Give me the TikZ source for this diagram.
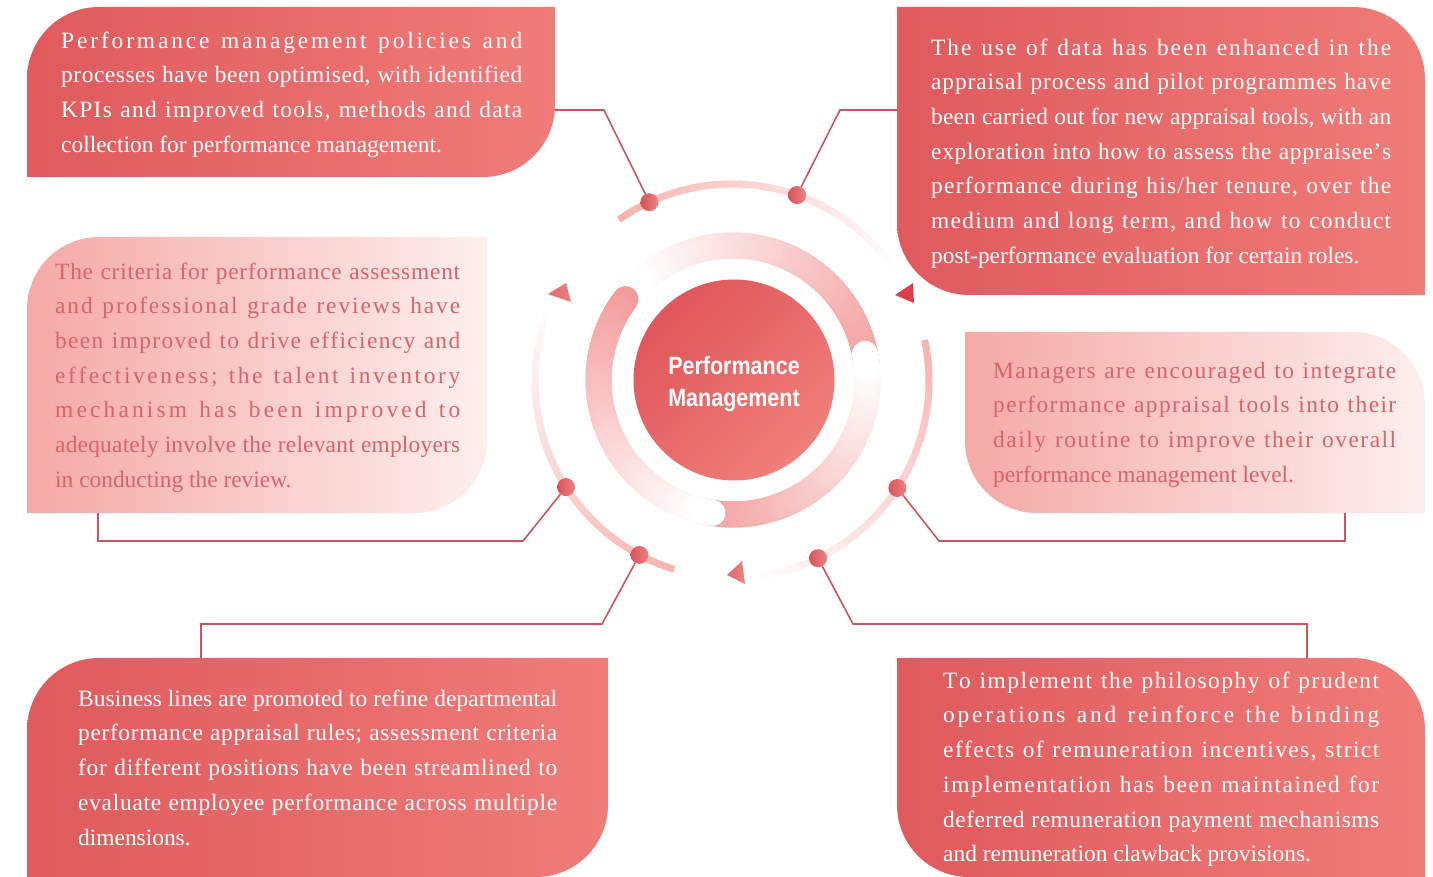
\documentclass[tikz,border=0pt]{standalone}
\usepackage{fontspec}
\setmainfont{Liberation Serif}
\newfontfamily\corefont[FakeStretch=0.86]{Liberation Sans}

\definecolor{pmred}{HTML}{DF5A5D}
\definecolor{pmsalmon}{HTML}{F07C78}
\definecolor{pmpink}{HTML}{F5A9A5}
\definecolor{pmblush}{HTML}{FDEFEE}
\definecolor{pmtext}{HTML}{D8636A}
\definecolor{pmline}{HTML}{C9565B}
\definecolor{pmring}{HTML}{F39C9A}
\definecolor{pmouter}{HTML}{F6B4AF}
\definecolor{pmarrow}{HTML}{D93F4C}
\definecolor{pmarrowsoft}{HTML}{E2686C}
\definecolor{pmdot}{HTML}{D8525A}
\definecolor{pmdotlight}{HTML}{EC8282}
\definecolor{pmcoreA}{HTML}{DF565B}
\definecolor{pmcoreB}{HTML}{F17F7A}

\tikzset{
	dark/.style={left color=pmred, right color=pmsalmon},
	light/.style={left color=pmpink, right color=pmblush},
	blurb/.style={anchor=north west, inner sep=0pt, align=justify,
		font={\fontsize{23.4}{34.7}\selectfont}},
	bright/.style={blurb, text=white},
	soft/.style={blurb, text=pmtext},
	core/.style={circle, inner sep=0pt, minimum size=201pt,
		top color=pmcoreA, bottom color=pmcoreB, shading angle=45},
	corelabel/.style={align=center, text=white, inner sep=0pt,
		font={\corefont\bfseries\fontsize{25}{32}\selectfont}},
	dot/.style={circle, inner sep=0pt, minimum size=18pt, left color=pmdot, right color=pmdotlight},
	link/.style={draw=pmline, line width=1.6pt},
	ringband/.style={line width=26pt, line cap=round},
	outerband/.style={line width=7pt}
}

% one full-width line, spread out letter by letter
\ExplSyntaxOn
\seq_new:N \l_pm_words_seq
\cs_new_protected:Npn \SpreadLine #1
	{
		\seq_set_split:Nnn \l_pm_words_seq { ~ } { #1 }
		\hbox_to_wd:nn { \hsize }
			{
				\rule{0pt}{20pt}
				\seq_map_inline:Nn \l_pm_words_seq
					{
						\tl_map_inline:nn { ##1 } { ####1 \skip_horizontal:n { 0pt plus 1fil } }
						\c_space_tl \skip_horizontal:n { 0pt plus 1fil }
					}
				\unskip \unskip \unskip
			}
		\par
	}
\cs_new_protected:Npn \LastLine #1 { \noindent \rule{0pt}{20pt} #1 \par }
\ExplSyntaxOff

% panels with two opposite rounded corners
\newcommand{\PanelTL}[5][]{\shade[#1] (#2,#5) -- (#2,#3+72) arc[start angle=180, end angle=270, radius=72] -- (#4,#3) -- (#4,#5-72) arc[start angle=0, end angle=90, radius=72] -- cycle;}
\newcommand{\PanelTR}[5][]{\shade[#1] (#2,#3) -- (#4-72,#3) arc[start angle=270, end angle=360, radius=72] -- (#4,#5) -- (#2+72,#5) arc[start angle=90, end angle=180, radius=72] -- cycle;}
\newcommand{\Blurb}[4][]{\node[#1] (#2) at #3 {#4};}
% arc fading from colour to white, angles counter-clockwise
\newcommand{\FadeArc}[6][]{%
	\foreach \k in {0,...,47}{
		\pgfmathsetmacro{\ta}{#3+(#4-#3)*\k/48}
		\pgfmathsetmacro{\tb}{#3+(#4-#3)*(\k+1.5)/48}
		\pgfmathsetmacro{\na}{-(\ta)}
		\pgfmathsetmacro{\nb}{-(\tb)}
		\pgfmathsetmacro{\tc}{100-100*\k/47}
		\draw[#1, draw=#6!\tc!white] (#2) ++(\na:#5) arc[start angle=\na, end angle=\nb, radius=#5];
	}}

\begin{document}
\begin{tikzpicture}[x=1pt, y=-1pt]
	\useasboundingbox (0,0) rectangle (1433,877);

	\PanelTL[dark]{27}{7}{555}{177}
	\PanelTR[dark]{897}{7}{1425}{295}
	\PanelTL[light]{27}{237}{487}{513}
	\PanelTR[light]{965}{332}{1425}{513}
	\PanelTL[dark]{27}{658}{608}{877}
	\PanelTR[dark]{897}{658}{1425}{877}

	\Blurb[bright, text width=461pt]{tA}{(61,28)}{%
		\SpreadLine{Performance management policies and}
		\SpreadLine{processes have been optimised, with identified}
		\SpreadLine{KPIs and improved tools, methods and data}
		\LastLine{collection for performance management.}}
	\Blurb[bright, text width=460pt]{tB}{(931,35)}{%
		\SpreadLine{The use of data has been enhanced in the}
		\SpreadLine{appraisal process and pilot programmes have}
		\SpreadLine{been carried out for new appraisal tools, with an}
		\SpreadLine{exploration into how to assess the appraisee's}
		\SpreadLine{performance during his/her tenure, over the}
		\SpreadLine{medium and long term, and how to conduct}
		\LastLine{post-performance evaluation for certain roles.}}
	\Blurb[soft, text width=405pt]{tC}{(55,259)}{%
		\SpreadLine{The criteria for performance assessment}
		\SpreadLine{and professional grade reviews have}
		\SpreadLine{been improved to drive efficiency and}
		\SpreadLine{effectiveness; the talent inventory}
		\SpreadLine{mechanism has been improved to}
		\SpreadLine{adequately involve the relevant employers}
		\LastLine{in conducting the review.}}
	\Blurb[soft, text width=403pt]{tD}{(993,358)}{%
		\SpreadLine{Managers are encouraged to integrate}
		\SpreadLine{performance appraisal tools into their}
		\SpreadLine{daily routine to improve their overall}
		\LastLine{performance management level.}}
	\Blurb[bright, text width=479pt]{tE}{(78,686)}{%
		\SpreadLine{Business lines are promoted to refine departmental}
		\SpreadLine{performance appraisal rules; assessment criteria}
		\SpreadLine{for different positions have been streamlined to}
		\SpreadLine{evaluate employee performance across multiple}
		\LastLine{dimensions.}}
	\Blurb[bright, text width=436pt]{tF}{(943,668)}{%
		\SpreadLine{To implement the philosophy of prudent}
		\SpreadLine{operations and reinforce the binding}
		\SpreadLine{effects of remuneration incentives, strict}
		\SpreadLine{implementation has been maintained for}
		\SpreadLine{deferred remuneration payment mechanisms}
		\LastLine{and remuneration clawback provisions.}}

	\coordinate (hub) at (733,380);
	\coordinate (ring) at (732,381);

	\FadeArc[outerband]{ring}{125}{32}{197}{pmouter}
	\FadeArc[outerband]{ring}{12}{-85}{197}{pmouter}
	\FadeArc[outerband]{ring}{253}{155}{197}{pmouter}

	\FadeArc[ringband]{hub}{5}{138}{134.5}{pmring}
	\FadeArc[ringband]{hub}{255}{370}{134.5}{pmring}
	\FadeArc[ringband]{hub}{143}{260}{134.5}{pmring}

	\fill[pmarrow] (895,295) -- (913,283) -- (914,303) -- cycle;
	\shade[left color=pmarrowsoft, right color=pmdotlight] (548,294) -- (566,283) -- (571,302) -- cycle;
	\shade[left color=pmarrowsoft, right color=pmdotlight] (727,575) -- (742,561) -- (745,584) -- cycle;

	\node[core] (core) at (734,380) {};
	\node[corelabel] (corelabel) at (734,384) {Performance\\Management};

	\path (ring) ++(-114.8:197) node[dot] (dA) {};
	\path (ring) ++(-70.7:197) node[dot] (dB) {};
	\path (ring) ++(-212.6:197) node[dot] (dC) {};
	\path (ring) ++(32.9:197) node[dot] (dD) {};
	\path (ring) ++(-242:197) node[dot] (dE) {};
	\path (ring) ++(64.1:197) node[dot] (dF) {};

	\coordinate (pA) at (555,110);
	\coordinate (pB) at (897,110);
	\coordinate (pC) at (98,513);
	\coordinate (pD) at (1345,513);
	\coordinate (pE) at (201,658);
	\coordinate (pF) at (1307,658);

	\draw[link] (pA) -- ++(49,0) -- (dA);
	\draw[link] (pB) -- ++(-57,0) -- (dB);
	\draw[link] (pC) -- ++(0,28) -- ++(425,0) -- (dC);
	\draw[link] (pD) -- ++(0,28) -- ++(-406,0) -- (dD);
	\draw[link] (pE) -- ++(0,-34) -- ++(401,0) -- (dE);
	\draw[link] (pF) -- ++(0,-34) -- ++(-454,0) -- (dF);

\end{tikzpicture}
\end{document}
